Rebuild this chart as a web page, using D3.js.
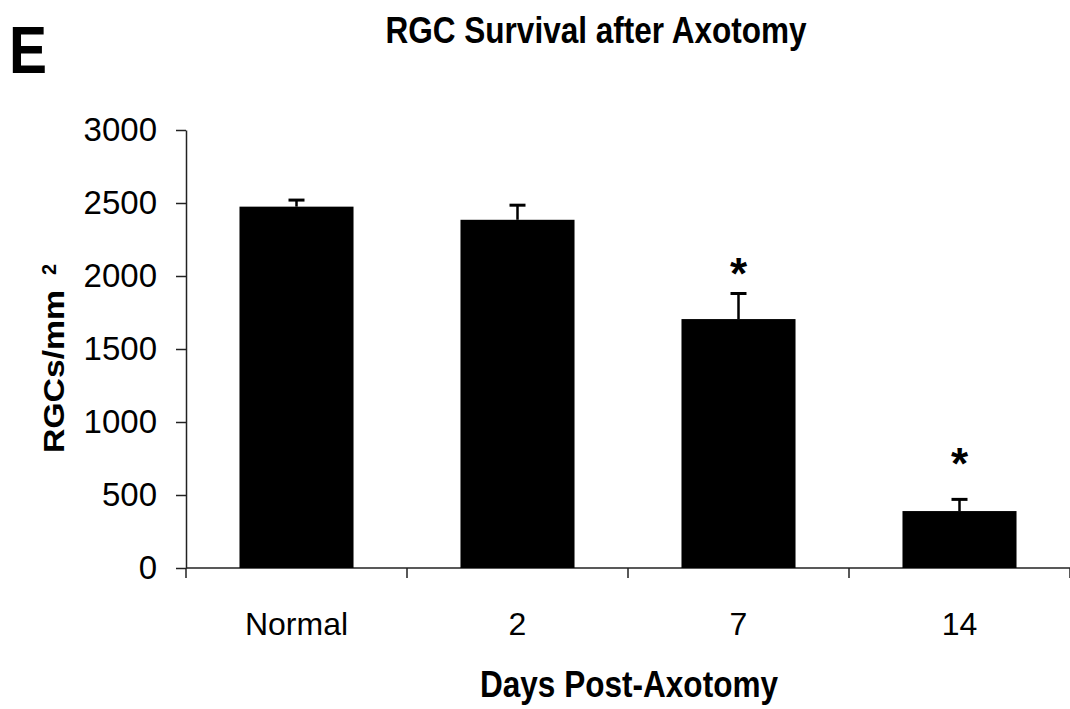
<!DOCTYPE html>
<html>
<head>
<meta charset="utf-8">
<script src="https://cdn.jsdelivr.net/npm/d3@7"></script>
<style>
  body { margin: 0; background: #fff; }
  text { font-family: "Liberation Sans", Arial, Helvetica, sans-serif; fill: #000; }
</style>
</head>
<body>
<div id="chart"></div>
<script>
// data
const categories = ["Normal", "2", "7", "14"];
const rgcDensity = [2475, 2385, 1705, 390];   // RGCs/mm2
const errorUp = [45, 100, 175, 80];            // error bar above mean
const starLevel = [null, null, 2100, 795];     // where the * sits (data units)
const yTicks = [0, 500, 1000, 1500, 2000, 2500, 3000];

const W = 1070, H = 709;
const margin = { top: 130, right: 0, bottom: 141, left: 186 };

const svg = d3.select("#chart").append("svg")
    .attr("width", W)
    .attr("height", H);

const x = d3.scaleBand()
    .domain(categories)
    .range([margin.left, W - margin.right])
    .paddingInner(0.484)
    .paddingOuter(0.242);

const y = d3.scaleLinear()
    .domain([0, 3000])
    .range([H - margin.bottom, margin.top]);

const y0 = y(0);

// Y axis
const yAxis = svg.append("g")
    .attr("transform", "translate(" + margin.left + ",0)")
    .call(d3.axisLeft(y).tickValues(yTicks).tickFormat(d3.format("d"))
        .tickSize(10).tickPadding(19).tickSizeOuter(0));
yAxis.select(".domain").attr("stroke", "#222").attr("stroke-width", 1.5);
yAxis.selectAll(".tick line").attr("stroke", "#222").attr("stroke-width", 1.5);
yAxis.selectAll(".tick text")
    .attr("font-size", "33px")
    .attr("font-family", "'Liberation Sans', Arial, sans-serif")
    .attr("fill", "#000");

// X axis baseline
svg.append("line")
    .attr("x1", margin.left).attr("x2", W)
    .attr("y1", y0).attr("y2", y0)
    .attr("stroke", "#222").attr("stroke-width", 1.5);

// x ticks at category boundaries
const gap = (x.step() - x.bandwidth()) / 2;
const bounds = categories.map(c => x(c) - gap).concat([x(categories[categories.length - 1]) + x.bandwidth() + gap]);
svg.selectAll(".xtick")
    .data(bounds)
    .enter().append("line")
    .attr("class", "xtick")
    .attr("x1", d => d).attr("x2", d => d)
    .attr("y1", y0).attr("y2", y0 + 10)
    .attr("stroke", "#222").attr("stroke-width", 1.5);

// x labels
svg.selectAll(".xlabel")
    .data(categories)
    .enter().append("text")
    .attr("class", "xlabel")
    .attr("x", d => x(d) + x.bandwidth() / 2)
    .attr("y", y0 + 67)
    .attr("text-anchor", "middle")
    .attr("font-size", "32px")
    .text(d => d);

// bars
svg.selectAll(".bar")
    .data(categories)
    .enter().append("rect")
    .attr("class", "bar")
    .attr("x", d => x(d))
    .attr("width", x.bandwidth())
    .attr("y", (d, i) => y(rgcDensity[i]))
    .attr("height", (d, i) => y0 - y(rgcDensity[i]))
    .attr("fill", "#000");

// error bars (upper half only)
const eb = svg.selectAll(".err")
    .data(categories)
    .enter().append("g")
    .attr("class", "err");
eb.append("line")
    .attr("x1", d => x(d) + x.bandwidth() / 2)
    .attr("x2", d => x(d) + x.bandwidth() / 2)
    .attr("y1", (d, i) => y(rgcDensity[i]))
    .attr("y2", (d, i) => y(rgcDensity[i] + errorUp[i]))
    .attr("stroke", "#000").attr("stroke-width", 2.5);
eb.append("line")
    .attr("x1", d => x(d) + x.bandwidth() / 2 - 8)
    .attr("x2", d => x(d) + x.bandwidth() / 2 + 8)
    .attr("y1", (d, i) => y(rgcDensity[i] + errorUp[i]))
    .attr("y2", (d, i) => y(rgcDensity[i] + errorUp[i]))
    .attr("stroke", "#000").attr("stroke-width", 3);

// significance stars
svg.selectAll(".star")
    .data(categories.filter((d, i) => starLevel[i] != null))
    .enter().append("text")
    .attr("class", "star")
    .attr("x", d => x(d) + x.bandwidth() / 2)
    .attr("y", d => y(starLevel[categories.indexOf(d)]))
    .attr("dy", "0.62em")
    .attr("text-anchor", "middle")
    .attr("font-size", "44px")
    .attr("font-weight", "bold")
    .text("*");

// panel letter
svg.append("text")
    .attr("x", 9)
    .attr("y", 73)
    .attr("font-size", "66px")
    .attr("font-weight", "bold")
    .attr("textLength", 38)
    .attr("lengthAdjust", "spacingAndGlyphs")
    .text("E");

// title
svg.append("text")
    .attr("x", 596)
    .attr("y", 43)
    .attr("text-anchor", "middle")
    .attr("font-size", "36px")
    .attr("font-weight", "bold")
    .attr("textLength", 421)
    .attr("lengthAdjust", "spacingAndGlyphs")
    .text("RGC Survival after Axotomy");

// x axis title
svg.append("text")
    .attr("x", 629)
    .attr("y", 697)
    .attr("text-anchor", "middle")
    .attr("font-size", "36px")
    .attr("font-weight", "bold")
    .attr("textLength", 298)
    .attr("lengthAdjust", "spacingAndGlyphs")
    .text("Days Post-Axotomy");

// y axis title
const yt = svg.append("g")
    .attr("transform", "translate(64,453) rotate(-90)");
yt.append("text")
    .attr("x", 0).attr("y", 0)
    .attr("font-size", "29px")
    .attr("font-weight", "bold")
    .attr("textLength", 163)
    .attr("lengthAdjust", "spacingAndGlyphs")
    .text("RGCs/mm");
yt.append("text")
    .attr("x", 178).attr("y", -8)
    .attr("font-size", "20px")
    .attr("font-weight", "bold")
    .text("2");
</script>
</body>
</html>
